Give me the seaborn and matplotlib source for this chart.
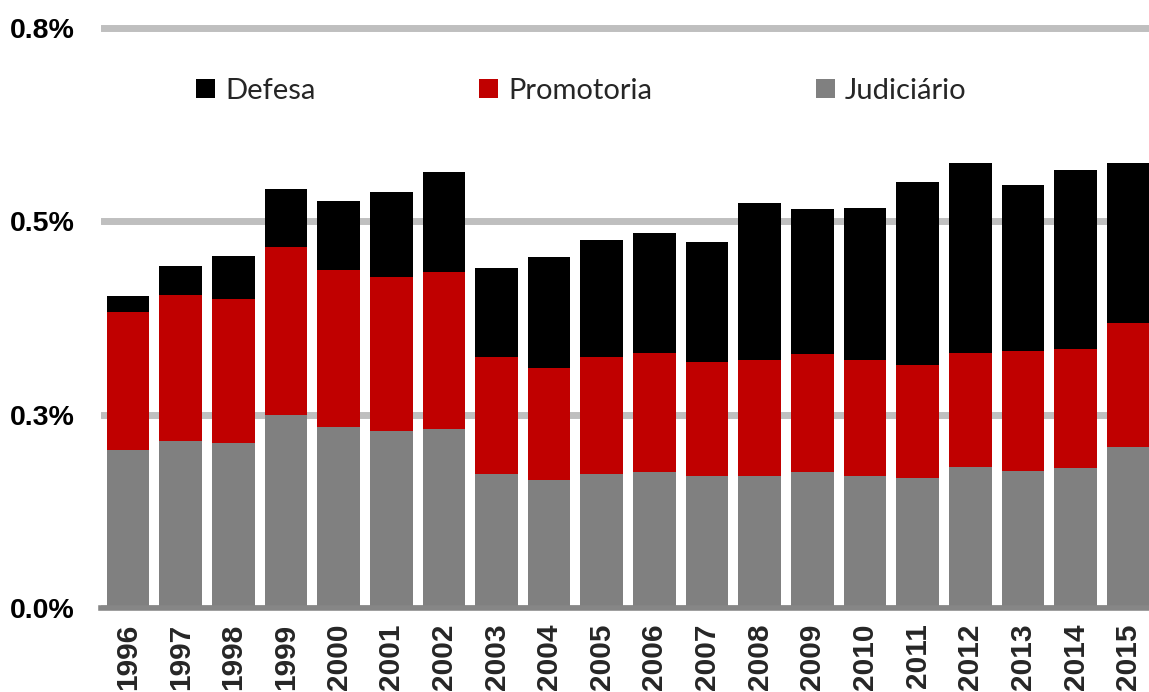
import numpy as np
import pandas as pd
import matplotlib
matplotlib.use("Agg")
import matplotlib.pyplot as plt
import seaborn as sns
from matplotlib.patches import Patch

# Dados (% do PIB)
anos = [str(a) for a in range(1996, 2016)]
judiciario = [0.204, 0.216, 0.214, 0.250, 0.234, 0.229, 0.232, 0.173, 0.166, 0.174,
              0.176, 0.171, 0.171, 0.176, 0.171, 0.168, 0.182, 0.177, 0.181, 0.208]
promotoria = [0.178, 0.188, 0.186, 0.217, 0.203, 0.199, 0.202, 0.151, 0.144, 0.151,
              0.154, 0.147, 0.149, 0.153, 0.149, 0.146, 0.148, 0.155, 0.154, 0.161]
defesa = [0.021, 0.038, 0.055, 0.074, 0.089, 0.109, 0.130, 0.115, 0.144, 0.150,
          0.154, 0.155, 0.203, 0.186, 0.197, 0.236, 0.245, 0.214, 0.231, 0.206]

yticks = [0.0, 0.25, 0.5, 0.75]
ytick_labels = ["0.0%", "0.3%", "0.5%", "0.8%"]

cores = {"Defesa": "#000000", "Promotoria": "#C00000", "Judiciário": "#808080"}

df = pd.DataFrame({"ano": anos, "Judiciário": judiciario,
                   "Promotoria": promotoria, "Defesa": defesa})
df["topo_prom"] = df["Judiciário"] + df["Promotoria"]
df["topo_def"] = df["topo_prom"] + df["Defesa"]

sns.set_theme(style="white")
plt.rcParams["font.family"] = ["Liberation Sans", "DejaVu Sans"]

fig = plt.figure(figsize=(11.49, 6.92), dpi=100)
ax = fig.add_axes([0.0881, 0.1210, 0.9167, 0.8728])

# barras empilhadas: totais sobrepostos
sns.barplot(data=df, x="ano", y="topo_def", color=cores["Defesa"], width=0.81,
            linewidth=0, saturation=1, errorbar=None, ax=ax)
sns.barplot(data=df, x="ano", y="topo_prom", color=cores["Promotoria"], width=0.81,
            linewidth=0, saturation=1, errorbar=None, ax=ax)
sns.barplot(data=df, x="ano", y="Judiciário", color=cores["Judiciário"], width=0.81,
            linewidth=0, saturation=1, errorbar=None, ax=ax)

ax.set_xlim(-0.51, 19.5)
ax.set_ylim(0, 0.78)
ax.set_yticks(yticks)
ax.set_yticklabels(ytick_labels, fontsize=20.5, fontweight="bold")
ax.set_xlabel("")
ax.set_ylabel("")
ax.set_axisbelow(True)
ax.yaxis.grid(True, color="#bfbfbf", linewidth=5)
ax.xaxis.grid(False)

for s in ["left", "top", "right"]:
    ax.spines[s].set_visible(False)
ax.spines["bottom"].set_color("#868686")
ax.spines["bottom"].set_linewidth(4)
ax.spines["bottom"].set_zorder(5)

ax.tick_params(axis="y", length=0, pad=19, labelcolor="black")
ax.tick_params(axis="x", length=0, pad=11)
for lab in ax.get_xticklabels():
    lab.set_rotation(90)
    lab.set_fontsize(21.5)
    lab.set_fontweight("bold")
ax.set_xticks(np.arange(len(anos)) - 0.5, minor=True)
ax.tick_params(axis="x", which="minor", direction="in", length=4, width=2,
               color="#868686")

handles = [Patch(facecolor=cores[k], edgecolor="none") for k in ["Defesa", "Promotoria", "Judiciário"]]
fig.legend(handles, ["Defesa", "Promotoria", "Judiciário"], loc="center",
           bbox_to_anchor=(0.506, 0.869), ncol=3, frameon=False,
           prop={"family": ["Lato", "DejaVu Sans"], "size": 21},
           handlelength=0.65, handleheight=0.65, handletextpad=0.35,
           columnspacing=5.6)

fig.savefig("out.png", dpi=100)
